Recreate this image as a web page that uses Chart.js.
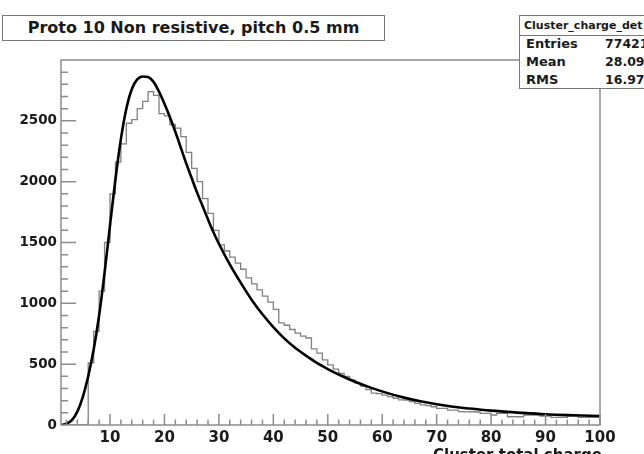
<!DOCTYPE html>
<html>
<head>
<meta charset="utf-8">
<script src="https://cdn.jsdelivr.net/npm/chart.js@4.4.1/dist/chart.umd.min.js"></script>
<style>
  body { margin: 0; width: 644px; height: 454px; overflow: hidden; background: #fff; position: relative;
         font-family: "DejaVu Sans", sans-serif; font-weight: bold; color: #1a1a1a; }
  #plot { position: absolute; left: 0; top: 0; }
  .title { position: absolute; left: 2px; top: 15px; width: 383px; height: 26px; box-sizing: border-box;
           border: 1px solid #777; background: #fff; font-size: 16px; line-height: 24px; text-align: center; }
  .stats { position: absolute; left: 519px; top: 15px; width: 140px; height: 74px; box-sizing: border-box;
           border: 1px solid #777; background: #fff; }
  .stats .head { position: absolute; left: 0; top: 0; width: 100%; height: 19px; border-bottom: 1px solid #777;
                 font-size: 11px; line-height: 19px; padding-left: 4px; white-space: nowrap; }
  .stats .row { position: absolute; left: 6px; font-size: 13px; white-space: nowrap; }
  .stats .val { position: absolute; left: 85px; font-size: 12.5px; white-space: nowrap; }
  .xtitle { position: absolute; left: 433px; top: 446px; font-size: 15px; white-space: nowrap; }
</style>
</head>
<body>
<canvas id="plot" width="644" height="454"></canvas>
<div class="title">Proto 10 Non resistive, pitch 0.5 mm</div>
<div class="stats">
  <div class="head">Cluster_charge_det</div>
  <div class="row" style="top:20px">Entries</div><div class="val" style="top:20px">77421</div>
  <div class="row" style="top:38px">Mean</div><div class="val" style="top:38px">28.09</div>
  <div class="row" style="top:56px">RMS</div><div class="val" style="top:56px">16.97</div>
</div>
<div class="xtitle">Cluster total charge</div>
<script>
// histogram: 99 bins of width 1 starting at 1
var histLow = 1;
var binWidth = 1;
var counts = [
  0, 0, 0, 0, 0, 510, 770, 1100, 1500, 1900,
  2160, 2310, 2480, 2510, 2600, 2660, 2740, 2710, 2560, 2540,
  2470, 2440, 2370, 2240, 2110, 2000, 1860, 1740, 1600, 1480,
  1430, 1380, 1330, 1280, 1210, 1160, 1110, 1060, 1010, 950,
  840, 820, 785, 755, 730, 715, 625, 590, 535, 495,
  460, 425, 400, 370, 345, 320, 290, 262, 258, 246,
  233, 220, 207, 205, 192, 178, 165, 160, 150, 137,
  136, 123, 122, 110, 108, 109, 107, 96, 95, 82,
  96, 95, 68, 68, 68, 82, 82, 82, 74, 74,
  63, 63, 63, 74, 74, 63, 63, 63, 63
];

// fitted curve
var fitX = [1, 2, 3, 4, 5, 6, 7, 8, 9, 10, 11, 12, 13, 14, 15, 16, 17, 18, 19, 20,
            21, 22, 23, 24, 25, 26, 27, 28, 29, 30, 32, 34, 36, 38, 40, 42, 44, 46, 48, 50,
            52, 55, 58, 61, 64, 67, 70, 73, 76, 80, 85, 90, 95, 100];
var fitY = [0, 10, 40, 110, 230, 400, 620, 900, 1250, 1640, 2020, 2350, 2600, 2760, 2840, 2865, 2860, 2820, 2740, 2640,
            2530, 2410, 2280, 2150, 2030, 1910, 1800, 1690, 1585, 1490, 1320, 1170, 1030, 910, 805, 712, 635, 570, 510, 460,
            415, 355, 305, 262, 225, 195, 170, 150, 135, 118, 102, 88, 80, 74];

var xTicks = [10, 20, 30, 40, 50, 60, 70, 80, 90, 100];
var yTicks = [0, 500, 1000, 1500, 2000, 2500];

var histPts = [];
for (var i = 0; i < counts.length; i++) {
  histPts.push({x: histLow + i * binWidth, y: counts[i]});
}
histPts.push({x: histLow + counts.length * binWidth, y: counts[counts.length - 1]});

var fitPts = [];
for (var j = 0; j < fitX.length; j++) {
  fitPts.push({x: fitX[j], y: fitY[j]});
}

// ROOT style frame with inward ticks
var rootFrame = {
  id: 'rootFrame',
  afterDatasetsDraw: function(chart) {
    var ctx = chart.ctx, a = chart.chartArea;
    var xs = chart.scales.x, ys = chart.scales.y;
    ctx.save();
    ctx.strokeStyle = '#8c8c8c';
    ctx.lineWidth = 1.5;
    ctx.strokeRect(a.left, a.top, a.right - a.left, a.bottom - a.top);
    ctx.beginPath();
    for (var v = 2; v <= 100; v += 2) {
      var px = xs.getPixelForValue(v);
      var len = (v % 10 === 0) ? 11 : 5.5;
      ctx.moveTo(px, a.bottom);
      ctx.lineTo(px, a.bottom - len);
    }
    for (var c = 100; c < 3000; c += 100) {
      var py = ys.getPixelForValue(c);
      var ly = (c % 500 === 0) ? 15 : 7;
      ctx.moveTo(a.left, py);
      ctx.lineTo(a.left + ly, py);
    }
    ctx.stroke();
    ctx.restore();
  }
};

new Chart(document.getElementById('plot'), {
  type: 'line',
  data: {
    datasets: [
      {
        label: 'fit',
        data: fitPts,
        borderColor: '#000',
        borderWidth: 2.6,
        pointRadius: 0,
        cubicInterpolationMode: 'monotone',
        fill: false,
        order: 0
      },
      {
        label: 'Cluster_charge',
        data: histPts,
        borderColor: '#808080',
        borderWidth: 1.3,
        pointRadius: 0,
        stepped: true,
        fill: false,
        order: 1
      }
    ]
  },
  options: {
    responsive: false,
    animation: false,
    layout: {padding: {left: 0, right: 44, top: 60, bottom: 0}},
    plugins: {legend: {display: false}, tooltip: {enabled: false}, title: {display: false}},
    scales: {
      x: {
        type: 'linear', min: 1, max: 100,
        grid: {display: false, drawTicks: false}, border: {display: false},
        afterBuildTicks: function(s) { s.ticks = xTicks.map(function(v) { return {value: v}; }); },
        afterFit: function(s) { s.height = 29; },
        ticks: {autoSkip: false, maxRotation: 0, padding: 4, color: '#1a1a1a',
                font: {family: 'DejaVu Sans', weight: 'bold', size: 15},
                callback: function(v) { return String(v); }}
      },
      y: {
        type: 'linear', min: 0, max: 3000,
        grid: {display: false, drawTicks: false}, border: {display: false},
        afterBuildTicks: function(s) { s.ticks = yTicks.map(function(v) { return {value: v}; }); },
        afterFit: function(s) { s.width = 61; },
        ticks: {autoSkip: false, padding: 4, color: '#1a1a1a',
                font: {family: 'DejaVu Sans', weight: 'bold', size: 13.5},
                callback: function(v) { return String(v); }}
      }
    }
  },
  plugins: [rootFrame]
});
</script>
</body>
</html>
